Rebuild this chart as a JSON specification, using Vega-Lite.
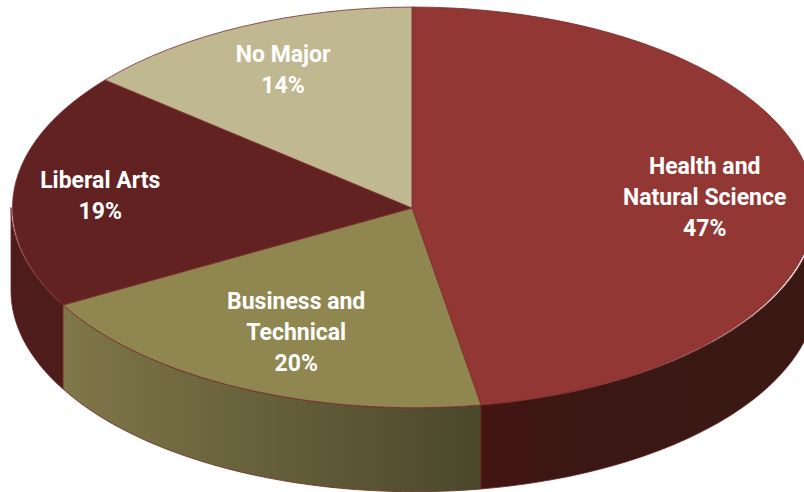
{
  "$schema": "https://vega.github.io/schema/vega-lite/v6.json",
  "width": 804,
  "height": 492,
  "padding": 0,
  "autosize": {"type": "none"},
  "background": "white",
  "config": {"view": {"stroke": null}},
  "data": {"values": [
    {"category": "Health and Natural Science", "share": 47, "label": "Health and\nNatural Science\n47%"},
    {"category": "Business and Technical", "share": 20, "label": "Business and\nTechnical\n20%"},
    {"category": "Liberal Arts", "share": 19, "label": "Liberal Arts\n19%"},
    {"category": "No Major", "share": 14, "label": "No Major\n14%"}
  ]},
  "layer": [
    {
      "transform": [{"filter": "datum.category === 'Liberal Arts'"}],
      "mark": {"type": "point", "filled": true, "opacity": 1, "size": 4, "stroke": "#6e2422", "strokeWidth": 0.8, "fill": "#4f1c1c",
        "shape": "M-349 97A403 200.5 0 0 1 -401 -0.5L-401 83.5A403 200.5 0 0 0 -349 181Z"},
      "encoding": {
        "x": {"datum": 0, "type": "quantitative", "axis": null, "scale": {"domain": [-1.03, 0.98], "nice": false, "zero": false}},
        "y": {"datum": 0, "type": "quantitative", "axis": null, "scale": {"domain": [-1.42, 1.04], "nice": false, "zero": false}}
      }
    },
    {
      "transform": [{"filter": "datum.category === 'Business and Technical'"}],
      "mark": {"type": "point", "filled": true, "opacity": 1, "size": 4, "stroke": "#6e2422", "strokeWidth": 0.8,
        "fill": {"gradient": "linear", "x1": 0, "y1": 0, "x2": 1, "y2": 0, "stops": [{"offset": 0, "color": "#7f7749"}, {"offset": 1, "color": "#4b472b"}]},
        "shape": "M69 197A403 200.5 0 0 1 -349 97L-349 181A403 200.5 0 0 0 69 281Z"},
      "encoding": {
        "x": {"datum": 0, "type": "quantitative", "axis": null},
        "y": {"datum": 0, "type": "quantitative", "axis": null}
      }
    },
    {
      "transform": [{"filter": "datum.category === 'Health and Natural Science'"}],
      "mark": {"type": "point", "filled": true, "opacity": 1, "size": 4, "stroke": "#6e2422", "strokeWidth": 0.8,
        "fill": {"gradient": "linear", "x1": 0, "y1": 0, "x2": 1, "y2": 0, "stops": [{"offset": 0, "color": "#431412"}, {"offset": 0.3, "color": "#3a1714"}, {"offset": 1, "color": "#3a1915"}]},
        "shape": "M69 197A403 200.5 0 0 0 405 -0.5L405 83.5A403 200.5 0 0 1 69 281Z"},
      "encoding": {
        "x": {"datum": 0, "type": "quantitative", "axis": null},
        "y": {"datum": 0, "type": "quantitative", "axis": null}
      }
    },
    {
      "mark": {"type": "point", "filled": true, "opacity": 1, "size": 4, "stroke": "#7a2c2a", "strokeWidth": 0.8},
      "encoding": {
        "x": {"datum": 0, "type": "quantitative", "axis": null},
        "y": {"datum": 0, "type": "quantitative", "axis": null},
        "shape": {"field": "category", "type": "nominal", "legend": null, "scale": {
          "domain": ["Health and Natural Science", "Business and Technical", "Liberal Arts", "No Major"],
          "range": [
            "M0 0L0 -201A403 200.5 0 0 1 69 197Z",
            "M0 0L69 197A403 200.5 0 0 1 -349 97Z",
            "M0 0L-349 97A403 200.5 0 0 1 -307 -128Z",
            "M0 0L-307 -128A403 200.5 0 0 1 0 -201Z"
          ]}},
        "fill": {"field": "category", "type": "nominal", "legend": null, "scale": {
          "domain": ["Health and Natural Science", "Business and Technical", "Liberal Arts", "No Major"],
          "range": ["#933735", "#8f8650", "#622222", "#bfb891"]}}
      }
    },
    {
      "transform": [
        {"window": [{"op": "sum", "field": "share", "as": "cum"}]},
        {"calculate": "(datum.cum - datum.share / 2) / 100 * 2 * PI", "as": "mid"},
        {"calculate": "{'Health and Natural Science': 0.735, 'Business and Technical': 0.68, 'Liberal Arts': 0.783, 'No Major': 0.757}[datum.category]", "as": "rx"},
        {"calculate": "{'Health and Natural Science': 0.53, 'Business and Technical': 0.69, 'Liberal Arts': 0.61, 'No Major': 0.76}[datum.category]", "as": "ry"},
        {"calculate": "datum.rx * sin(datum.mid)", "as": "lx"},
        {"calculate": "datum.ry * cos(datum.mid) + (length(split(datum.label, '\\n')) - 1) * 15.5 / 200", "as": "ly"}
      ],
      "mark": {"type": "text", "color": "white", "font": "Roboto", "fontWeight": "bold", "fontSize": 23, "lineHeight": 31, "lineBreak": "\n", "align": "center", "baseline": "middle"},
      "encoding": {
        "x": {"field": "lx", "type": "quantitative", "axis": null},
        "y": {"field": "ly", "type": "quantitative", "axis": null},
        "text": {"field": "label", "type": "nominal"}
      }
    }
  ]
}
